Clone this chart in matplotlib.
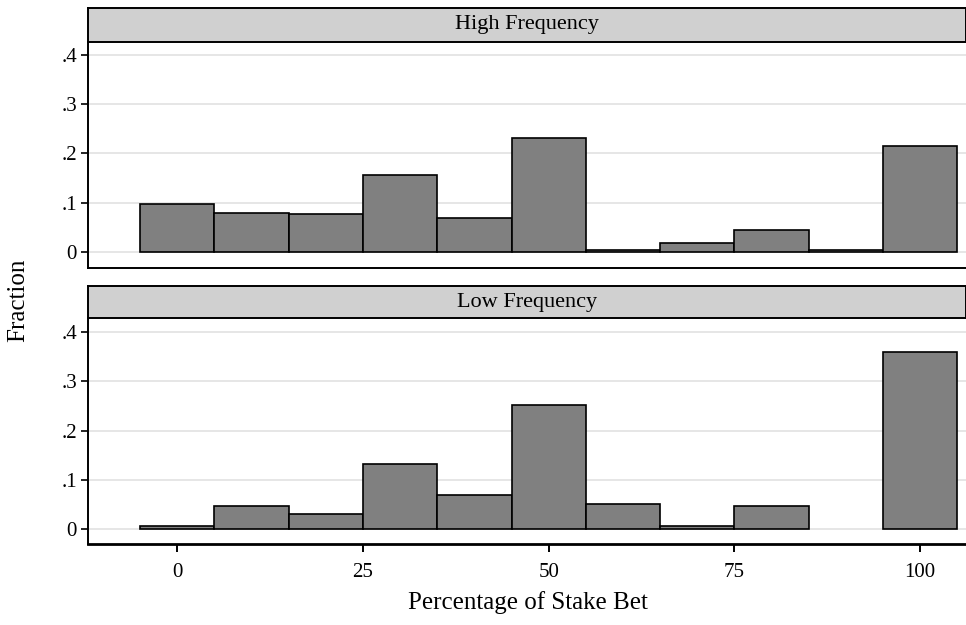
import matplotlib
matplotlib.use("Agg")
import matplotlib.pyplot as plt

# bin centres (percentage of stake bet), width 10
bin_centres = [0, 10, 20, 30, 40, 50, 60, 70, 80, 90, 100]
bin_width = 10
high_freq = [0.097, 0.080, 0.077, 0.156, 0.070, 0.232, 0.004, 0.018, 0.045, 0.004, 0.215]
low_freq = [0.007, 0.048, 0.030, 0.132, 0.069, 0.252, 0.052, 0.007, 0.048, 0.0, 0.360]
panel_titles = ["High Frequency", "Low Frequency"]
y_ticks = [0, 0.1, 0.2, 0.3, 0.4]
y_ticklabels = ["0", ".1", ".2", ".3", ".4"]
x_ticks = [0, 25, 50, 75, 100]

plt.rcParams["font.family"] = ["Liberation Serif", "DejaVu Serif"]

W, H = 966, 625
fig = plt.figure(figsize=(W / 100, H / 100), dpi=100)


def fig_rect(x0, y0, x1, y1):
    # pixel box -> figure fraction
    return [x0 / W, 1 - y1 / H, (x1 - x0) / W, (y1 - y0) / H]


panels = [
    (high_freq, panel_titles[0], (8, 42, 268), (-0.032, 0.4255)),
    (low_freq, panel_titles[1], (286, 318, 544), (-0.030, 0.428)),
]

for i, (vals, title, (ys, yp, yb), ylim) in enumerate(panels):
    ax = fig.add_axes(fig_rect(88, yp, 967, yb))
    # empty bins are not drawn at all
    xs = [c for c, v in zip(bin_centres, vals) if v > 0]
    hs = [v for v in vals if v > 0]
    ax.bar(xs, hs, width=bin_width, color="#808080",
           edgecolor="black", linewidth=1.2, zorder=3)
    ax.set_xlim(-12, 106.3)
    ax.set_ylim(*ylim)
    ax.set_yticks(y_ticks)
    ax.set_yticklabels(y_ticklabels, fontsize=15)
    ax.grid(axis="y", color="#e2e2e2", linewidth=1.2, zorder=0)
    ax.tick_params(axis="y", length=5, width=1.2, pad=3)
    ax.spines["right"].set_visible(False)
    ax.spines["top"].set_visible(False)
    ax.spines["left"].set_linewidth(1.4)
    if i == 0:
        ax.spines["bottom"].set_linewidth(1.4)
        ax.tick_params(axis="x", bottom=False, labelbottom=False)
    else:
        ax.spines["bottom"].set_linewidth(2.0)
        ax.set_xticks(x_ticks)
        ax.set_xticklabels([str(t) for t in x_ticks], fontsize=15)
        ax.tick_params(axis="x", length=6, width=1.4, pad=8)
        ax.set_xlabel("Percentage of Stake Bet", fontsize=18, labelpad=6)

    # strip header
    sax = fig.add_axes(fig_rect(88, ys, 965.5, yp))
    sax.set_facecolor("#d0d0d0")
    sax.set_xticks([])
    sax.set_yticks([])
    for sp in sax.spines.values():
        sp.set_linewidth(1.4)
    sax.text(0.5, 0.5, title, ha="center", va="center", fontsize=16,
             transform=sax.transAxes)

fig.text(18 / W, 1 - 300 / H, "Fraction", rotation=90, ha="center",
         va="center", fontsize=18)

fig.savefig("out.png", dpi=100)
